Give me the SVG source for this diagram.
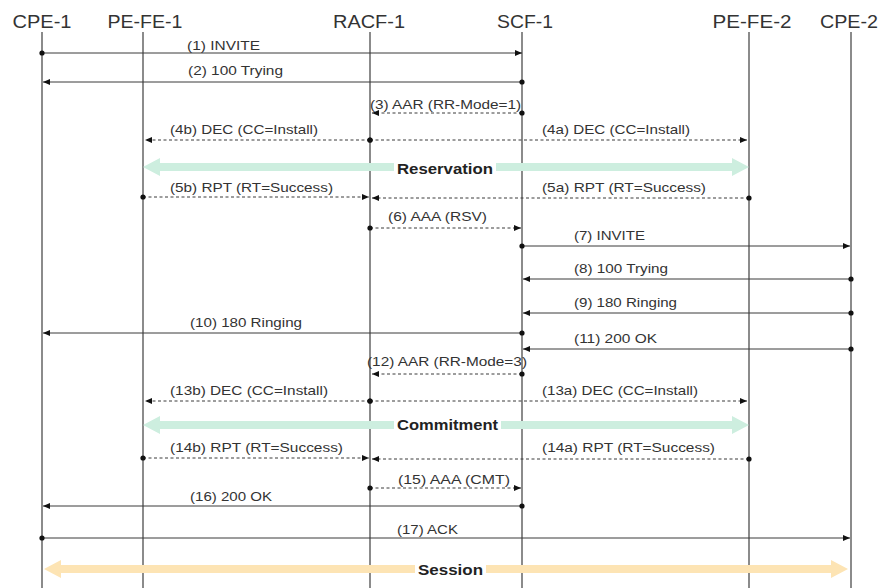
<svg xmlns="http://www.w3.org/2000/svg" width="883" height="588" viewBox="0 0 883 588">
<style>
.hdr{font-family:"Liberation Sans",Arial,sans-serif;font-size:18px;fill:#333;text-anchor:middle}
.lbl{font-family:"Liberation Sans",Arial,sans-serif;font-size:13px;fill:#333}
.phase{font-family:"Liberation Sans",Arial,sans-serif;font-size:15px;font-weight:bold;fill:#222}
.life{stroke:#5a5a5a;stroke-width:1.4;fill:none}
.msg{stroke:#3a3a3a;stroke-width:1;fill:none;marker-start:url(#dot);marker-end:url(#arr)}
.dash{stroke-dasharray:3 2.5}
</style>
<defs>
<marker id="arr" viewBox="0 0 7 6" refX="7" refY="3" markerWidth="7" markerHeight="6" markerUnits="userSpaceOnUse" orient="auto"><path d="M0,0 L7,3 L0,6 z" fill="#111"/></marker>
<marker id="dot" viewBox="0 0 6 6" refX="3" refY="3" markerWidth="6" markerHeight="6" markerUnits="userSpaceOnUse"><circle cx="3" cy="3" r="2.6" fill="#111"/></marker>
</defs>
<rect width="883" height="588" fill="#fff"/>

<g id="CPE-1"><text class="hdr" x="42" y="28" textLength="59" lengthAdjust="spacingAndGlyphs">CPE-1</text><line class="life" x1="42" y1="32" x2="42" y2="588"/></g>
<g id="PE-FE-1"><text class="hdr" x="145" y="28" textLength="75" lengthAdjust="spacingAndGlyphs">PE-FE-1</text><line class="life" x1="143" y1="32" x2="143" y2="588"/></g>
<g id="RACF-1"><text class="hdr" x="369" y="28" textLength="72" lengthAdjust="spacingAndGlyphs">RACF-1</text><line class="life" x1="370" y1="32" x2="370" y2="588"/></g>
<g id="SCF-1"><text class="hdr" x="525" y="28" textLength="56" lengthAdjust="spacingAndGlyphs">SCF-1</text><line class="life" x1="522" y1="32" x2="522" y2="588"/></g>
<g id="PE-FE-2"><text class="hdr" x="752" y="28" textLength="79" lengthAdjust="spacingAndGlyphs">PE-FE-2</text><line class="life" x1="749" y1="32" x2="749" y2="588"/></g>
<g id="CPE-2"><text class="hdr" x="849" y="28" textLength="58" lengthAdjust="spacingAndGlyphs">CPE-2</text><line class="life" x1="851" y1="32" x2="851" y2="588"/></g>

<g id="phases">
<polygon points="143,167 160,158 160,163 732,163 732,158 749,167 732,176 732,171 160,171 160,176" fill="#cdeedf"/>
<rect x="394" y="159" width="102" height="18" fill="#fff"/>
<text class="phase" x="397" y="174" textLength="96" lengthAdjust="spacingAndGlyphs">Reservation</text>
<polygon points="143,425 160,416 160,421 732,421 732,416 749,425 732,434 732,429 160,429 160,434" fill="#cdeedf"/>
<rect x="394" y="417" width="107" height="18" fill="#fff"/>
<text class="phase" x="397" y="430" textLength="101" lengthAdjust="spacingAndGlyphs">Commitment</text>
<polygon points="44,569 61,560 61,565 831,565 831,560 848,569 831,578 831,573 61,573 61,578" fill="#fde4b4"/>
<rect x="415" y="561" width="71" height="18" fill="#fff"/>
<text class="phase" x="418" y="575" textLength="65" lengthAdjust="spacingAndGlyphs">Session</text>
</g>

<g id="connectors">
<line class="msg" x1="42" y1="53" x2="522" y2="53"/>
<line class="msg" x1="522" y1="82" x2="43" y2="82"/>
<line class="msg dash" x1="522" y1="113" x2="372" y2="113"/>
<line class="msg dash" x1="370" y1="140" x2="145" y2="140"/>
<line class="msg dash" x1="370" y1="140" x2="747" y2="140"/>
<line class="msg dash" x1="143" y1="197" x2="369" y2="197"/>
<line class="msg dash" x1="749" y1="198" x2="372" y2="198"/>
<line class="msg dash" x1="370" y1="228" x2="521" y2="228"/>
<line class="msg" x1="522" y1="246" x2="850" y2="246"/>
<line class="msg" x1="851" y1="279" x2="523" y2="279"/>
<line class="msg" x1="851" y1="313" x2="523" y2="313"/>
<line class="msg" x1="522" y1="333" x2="43" y2="333"/>
<line class="msg" x1="851" y1="349" x2="523" y2="349"/>
<line class="msg dash" x1="522" y1="374" x2="372" y2="374"/>
<line class="msg dash" x1="370" y1="401" x2="145" y2="401"/>
<line class="msg dash" x1="370" y1="401" x2="747" y2="401"/>
<line class="msg dash" x1="143" y1="458" x2="369" y2="458"/>
<line class="msg dash" x1="749" y1="459" x2="372" y2="459"/>
<line class="msg dash" x1="370" y1="488" x2="521" y2="488"/>
<line class="msg" x1="522" y1="506" x2="43" y2="506"/>
<line class="msg" x1="42" y1="538" x2="850" y2="538"/>
</g>

<g id="labels">
<text class="lbl" x="187" y="50" textLength="73" lengthAdjust="spacingAndGlyphs">(1) INVITE</text>
<text class="lbl" x="188" y="75" textLength="95" lengthAdjust="spacingAndGlyphs">(2) 100 Trying</text>
<text class="lbl" x="370" y="109" textLength="151" lengthAdjust="spacingAndGlyphs">(3) AAR (RR-Mode=1)</text>
<text class="lbl" x="170" y="134" textLength="148" lengthAdjust="spacingAndGlyphs">(4b) DEC (CC=Install)</text>
<text class="lbl" x="542" y="134" textLength="148" lengthAdjust="spacingAndGlyphs">(4a) DEC (CC=Install)</text>
<text class="lbl" x="170" y="192" textLength="163" lengthAdjust="spacingAndGlyphs">(5b) RPT (RT=Success)</text>
<text class="lbl" x="542" y="192" textLength="164" lengthAdjust="spacingAndGlyphs">(5a) RPT (RT=Success)</text>
<text class="lbl" x="388" y="221" textLength="99" lengthAdjust="spacingAndGlyphs">(6) AAA (RSV)</text>
<text class="lbl" x="574" y="240" textLength="71" lengthAdjust="spacingAndGlyphs">(7) INVITE</text>
<text class="lbl" x="574" y="273" textLength="94" lengthAdjust="spacingAndGlyphs">(8) 100 Trying</text>
<text class="lbl" x="574" y="307" textLength="103" lengthAdjust="spacingAndGlyphs">(9) 180 Ringing</text>
<text class="lbl" x="190" y="327" textLength="112" lengthAdjust="spacingAndGlyphs">(10) 180 Ringing</text>
<text class="lbl" x="574" y="343" textLength="83" lengthAdjust="spacingAndGlyphs">(11) 200 OK</text>
<text class="lbl" x="367" y="366" textLength="160" lengthAdjust="spacingAndGlyphs">(12) AAR (RR-Mode=3)</text>
<text class="lbl" x="170" y="395" textLength="158" lengthAdjust="spacingAndGlyphs">(13b) DEC (CC=Install)</text>
<text class="lbl" x="542" y="395" textLength="156" lengthAdjust="spacingAndGlyphs">(13a) DEC (CC=Install)</text>
<text class="lbl" x="170" y="452" textLength="173" lengthAdjust="spacingAndGlyphs">(14b) RPT (RT=Success)</text>
<text class="lbl" x="542" y="452" textLength="173" lengthAdjust="spacingAndGlyphs">(14a) RPT (RT=Success)</text>
<text class="lbl" x="398" y="484" textLength="112" lengthAdjust="spacingAndGlyphs">(15) AAA (CMT)</text>
<text class="lbl" x="190" y="501" textLength="82" lengthAdjust="spacingAndGlyphs">(16) 200 OK</text>
<text class="lbl" x="397" y="534" textLength="61" lengthAdjust="spacingAndGlyphs">(17) ACK</text>
</g>
</svg>
